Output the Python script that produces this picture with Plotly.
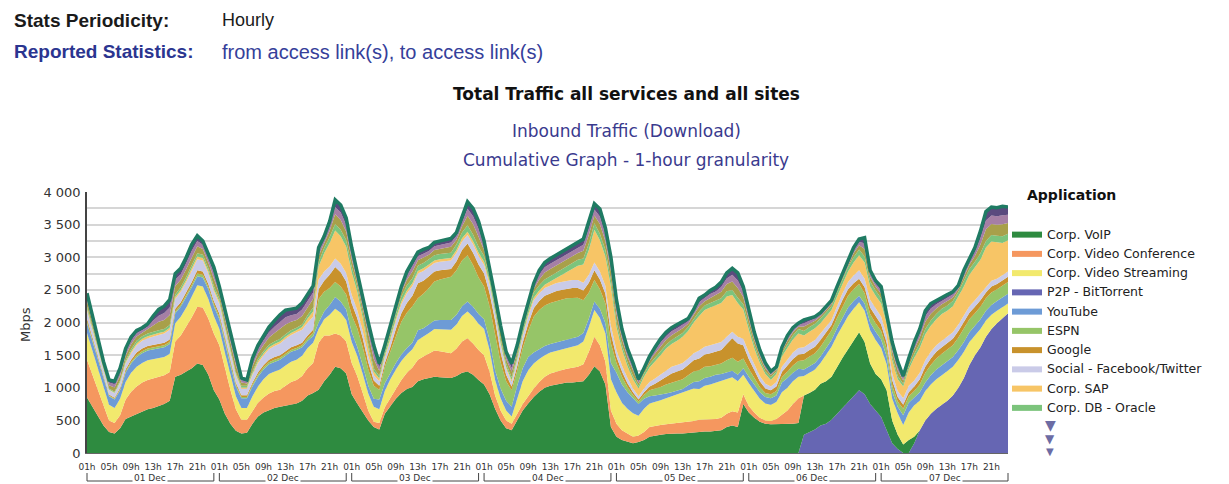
import plotly.graph_objects as go

# ---------------- data ----------------
hours = list(range(168))
tick_idx = list(range(0, 168, 4))
tick_text = ["01h", "05h", "09h", "13h", "17h", "21h"] * 7
day_labels = ["01 Dec", "02 Dec", "03 Dec", "04 Dec", "05 Dec", "06 Dec", "07 Dec"]
y_ticks = [0, 500, 1000, 1500, 2000, 2500, 3000, 3500, 4000]
y_tick_text = ["0", "500", "1 000", "1 500", "2 000", "2 500", "3 000", "3 500", "4 000"]

p2p = [0] * 130 + [
    280, 320, 360, 420, 450, 510, 600, 700, 780, 880, 960, 900, 750, 650,
    550, 350, 150, 60, 0, 0, 150, 350, 500, 600, 680, 740, 800, 880, 1000, 1150, 1350, 1500, 1620, 1780, 1900, 1990, 2070, 2140]

voip = [
    850, 700, 550, 420, 320, 300, 380, 520, 560, 600, 640, 670, 690, 720, 750, 800, 1170, 1200, 1250, 1300, 1370, 1350, 1200, 960,
    820, 600, 450, 340, 300, 310, 450, 560, 620, 660, 690, 710, 730, 750, 760, 800, 880, 920, 970, 1100, 1200, 1320, 1300, 1220,
    900, 760, 620, 500, 400, 360, 600, 720, 830, 920, 980, 1010, 1100, 1130, 1150, 1170, 1160, 1150, 1150, 1180, 1230, 1250, 1200, 1120,
    1050, 900, 680, 500, 380, 350, 500, 650, 760, 860, 940, 1000, 1030, 1050, 1070, 1080, 1080, 1090, 1100, 1200, 1330, 1250, 1050, 400,
    250, 200, 180, 150, 170, 200, 250, 270, 280, 290, 300, 300, 300, 310, 320, 330, 330, 330, 340, 350, 400, 420, 400, 750,
    620, 540, 480, 450, 440, 440, 450, 450, 450, 460, 600, 600, 610, 640, 650, 660, 720, 760, 810, 850, 890, 800, 620, 560,
    580, 610, 350, 220, 130, 200, 100, 0, 0, 0, 0, 0, 0, 0, 0, 0, 0, 0, 0, 0, 0, 0, 0, 0]

video_conf = [
    580, 490, 400, 300, 180, 160, 200, 300, 380, 420, 440, 450, 450, 440, 440, 440, 540, 600, 680, 780, 870, 880, 860, 870,
    830, 700, 520, 330, 210, 200, 200, 210, 230, 250, 260, 260, 300, 340, 360, 380, 420, 460, 720, 700, 600, 510, 500, 490,
    480, 420, 300, 150, 80, 100, 100, 110, 150, 200, 250, 300, 330, 350, 380, 400, 400, 390, 380, 420, 480, 510, 480, 460,
    450, 350, 200, 150, 120, 100, 100, 100, 110, 130, 150, 170, 190, 200, 200, 210, 220, 230, 260, 350, 450, 400, 350, 250,
    200, 150, 120, 100, 100, 120, 150, 150, 150, 150, 150, 150, 160, 170, 170, 180, 180, 180, 180, 190, 200, 220, 220, 150,
    100, 80, 60, 50, 50, 80, 130, 200, 300, 380, 0, 0, 0, 0, 0, 0, 0, 0, 0, 0, 0, 0, 0, 0,
    0, 0, 0, 0, 0, 0, 0, 0, 0, 0, 0, 0, 0, 0, 0, 0, 0, 0, 0, 0, 0, 0, 0, 0]

video_stream = [
    410, 370, 320, 270, 240, 230, 250, 270, 290, 300, 300, 300, 300, 290, 280, 280, 280, 290, 300, 320, 330, 320, 300, 270,
    250, 240, 220, 200, 180, 180, 220, 250, 280, 300, 300, 310, 310, 310, 310, 310, 310, 310, 210, 250, 320, 380, 350, 330,
    320, 310, 290, 260, 230, 210, 250, 300, 300, 290, 280, 280, 300, 300, 310, 330, 340, 350, 360, 370, 390, 410, 410, 400,
    400, 330, 240, 190, 150, 110, 250, 350, 400, 380, 350, 330, 320, 310, 310, 310, 320, 330, 350, 380, 410, 420, 430, 480,
    480, 420, 380, 360, 300, 360, 360, 360, 380, 400, 420, 440, 460, 480, 500, 470, 520, 540, 560, 560, 540, 520, 480, 300,
    350, 320, 290, 260, 250, 260, 350, 350, 350, 330, 300, 310, 310, 320, 400, 460, 480, 500, 510, 480, 460, 480, 510, 520,
    480, 400, 330, 330, 300, 420, 480, 450, 450, 450, 450, 450, 450, 440, 430, 400, 350, 300, 280, 250, 220, 190, 160, 150]

youtube = [
    150, 140, 140, 140, 130, 130, 130, 140, 140, 150, 150, 150, 150, 150, 150, 150, 150, 150, 150, 140, 140, 140, 150, 150,
    150, 150, 150, 150, 150, 150, 150, 150, 150, 150, 150, 150, 150, 150, 150, 130, 110, 100, 100, 120, 150, 180, 170, 160,
    150, 140, 130, 120, 120, 150, 120, 100, 100, 100, 100, 100, 150, 130, 130, 130, 140, 150, 150, 150, 150, 150, 150, 150,
    150, 150, 150, 150, 150, 150, 180, 200, 200, 170, 150, 140, 130, 130, 130, 130, 130, 130, 130, 130, 130, 140, 160, 250,
    300, 280, 250, 230, 180, 150, 110, 100, 80, 70, 60, 60, 60, 80, 100, 120, 120, 120, 120, 110, 100, 100, 100, 100,
    100, 100, 100, 100, 100, 100, 150, 150, 130, 120, 100, 100, 100, 100, 100, 100, 110, 120, 130, 120, 100, 110, 120, 130,
    130, 120, 110, 100, 150, 150, 120, 130, 130, 140, 150, 150, 150, 150, 150, 150, 150, 150, 150, 150, 150, 150, 150, 150]

espn = [
    30, 25, 20, 15, 10, 10, 15, 20, 25, 30, 30, 30, 30, 30, 30, 30, 30, 30, 35, 35, 40, 40, 35, 35,
    40, 35, 30, 25, 20, 20, 25, 30, 30, 30, 30, 30, 30, 30, 30, 30, 40, 50, 360, 300, 260, 230, 230, 230,
    260, 280, 280, 250, 200, 150, 250, 320, 420, 500, 540, 560, 490, 530, 560, 600, 620, 640, 660, 680, 700, 710, 640, 560,
    500, 520, 560, 400, 300, 250, 230, 300, 400, 550, 600, 620, 630, 640, 640, 640, 630, 600, 500, 400, 330, 300, 300, 300,
    150, 120, 80, 50, 40, 60, 90, 100, 120, 140, 150, 150, 150, 150, 160, 170, 170, 160, 150, 160, 180, 200, 200, 150,
    120, 100, 80, 60, 60, 70, 80, 100, 110, 120, 140, 150, 150, 150, 150, 150, 160, 170, 180, 180, 180, 160, 130, 130,
    130, 120, 100, 80, 100, 100, 100, 120, 150, 160, 170, 180, 180, 180, 190, 200, 200, 190, 190, 190, 190, 180, 180, 180]

google = [
    40, 35, 30, 20, 15, 15, 20, 30, 35, 40, 40, 40, 40, 40, 40, 40, 40, 40, 45, 45, 50, 50, 45, 45,
    45, 40, 35, 30, 25, 25, 30, 35, 35, 40, 40, 40, 40, 40, 40, 40, 40, 50, 150, 170, 200, 230, 220, 200,
    180, 160, 140, 110, 80, 60, 60, 70, 100, 130, 150, 160, 230, 200, 180, 150, 140, 130, 120, 140, 160, 180, 190, 200,
    200, 200, 200, 150, 100, 60, 70, 90, 110, 130, 140, 150, 150, 150, 150, 150, 150, 150, 150, 150, 150, 150, 150, 150,
    100, 80, 60, 40, 30, 40, 60, 80, 100, 120, 140, 150, 150, 160, 170, 180, 190, 200, 200, 210, 250, 300, 280, 200,
    150, 120, 90, 70, 60, 70, 80, 90, 100, 100, 100, 100, 100, 100, 90, 80, 90, 100, 100, 90, 80, 90, 100, 100,
    100, 90, 80, 70, 60, 60, 70, 80, 90, 100, 100, 100, 100, 100, 100, 100, 100, 100, 100, 90, 90, 80, 80, 80]

social = [
    120, 110, 100, 80, 70, 70, 80, 90, 100, 110, 120, 120, 130, 140, 140, 150, 150, 160, 160, 170, 170, 170, 160, 150,
    150, 140, 130, 110, 100, 100, 120, 140, 150, 160, 170, 180, 190, 190, 200, 200, 200, 200, 150, 140, 130, 130, 130, 130,
    130, 120, 110, 100, 80, 70, 80, 100, 120, 140, 150, 150, 150, 150, 140, 130, 130, 130, 130, 130, 130, 130, 130, 130,
    130, 130, 120, 110, 90, 70, 80, 100, 110, 120, 120, 120, 120, 120, 120, 120, 120, 120, 120, 120, 120, 120, 120, 120,
    100, 90, 80, 60, 50, 60, 70, 80, 90, 100, 100, 100, 100, 100, 110, 120, 120, 120, 120, 120, 110, 100, 100, 100,
    100, 90, 80, 70, 60, 70, 80, 90, 100, 100, 100, 100, 100, 100, 90, 80, 90, 100, 110, 120, 130, 130, 120, 120,
    120, 110, 100, 90, 100, 100, 90, 100, 100, 100, 100, 100, 100, 100, 100, 100, 100, 100, 100, 90, 90, 80, 80, 80]

sap = [
    30, 25, 20, 15, 10, 10, 15, 20, 25, 30, 30, 30, 30, 30, 30, 30, 30, 30, 35, 35, 40, 40, 35, 35,
    35, 30, 25, 20, 20, 20, 25, 30, 30, 30, 30, 30, 30, 30, 30, 40, 60, 80, 200, 280, 360, 430, 420, 400,
    350, 280, 200, 120, 60, 40, 40, 40, 40, 40, 40, 40, 40, 40, 40, 40, 40, 40, 40, 40, 50, 50, 50, 50,
    50, 50, 40, 40, 30, 30, 30, 30, 40, 40, 40, 50, 60, 80, 100, 130, 170, 220, 280, 380, 500, 480, 450, 600,
    350, 250, 180, 140, 120, 180, 220, 260, 300, 330, 350, 370, 400, 420, 470, 530, 560, 580, 590, 600, 620, 560, 520, 450,
    350, 250, 200, 150, 100, 120, 160, 180, 200, 220, 180, 180, 180, 160, 160, 150, 150, 150, 160, 200, 230, 250, 200, 200,
    200, 180, 200, 180, 180, 250, 350, 380, 400, 400, 400, 410, 400, 400, 420, 450, 480, 500, 520, 600, 600, 560, 500, 480]

oracle = [
    40, 35, 30, 20, 15, 15, 20, 30, 35, 40, 40, 40, 40, 40, 40, 40, 40, 40, 45, 45, 50, 50, 45, 45,
    45, 40, 35, 30, 25, 25, 30, 35, 35, 40, 40, 40, 40, 40, 40, 40, 50, 60, 70, 80, 90, 100, 100, 100,
    90, 80, 70, 60, 50, 40, 50, 60, 70, 80, 80, 80, 80, 80, 80, 80, 80, 80, 80, 90, 90, 100, 100, 90,
    90, 80, 70, 60, 50, 40, 50, 60, 70, 80, 80, 80, 80, 80, 80, 80, 90, 90, 90, 100, 100, 100, 100, 100,
    80, 70, 60, 50, 40, 50, 50, 60, 60, 60, 60, 60, 60, 60, 60, 70, 70, 70, 70, 70, 80, 80, 80, 80,
    70, 60, 50, 40, 40, 40, 50, 60, 60, 70, 70, 70, 70, 70, 60, 60, 70, 60, 70, 80, 90, 90, 80, 80,
    80, 70, 60, 50, 40, 50, 60, 70, 80, 80, 80, 80, 80, 80, 80, 90, 90, 90, 100, 100, 100, 100, 100, 100]

# thin unnamed application stripes on top (not in visible legend)
minor_a = [
    80, 70, 55, 50, 50, 65, 75, 70, 75, 65, 50, 60, 95, 130, 140, 155, 130, 115, 120, 130, 110, 85, 90, 115,
    75, 90, 100, 105, 50, 35, 80, 85, 95, 110, 130, 150, 150, 130, 120, 130, 125, 130, 90, 70, 95, 150, 150, 135,
    115, 80, 85, 130, 140, 75, 40, 50, 50, 60, 85, 100, 85, 85, 70, 80, 80, 85, 90, 70, 90, 145, 160, 155,
    90, 55, 55, 80, 70, 85, 65, 50, 40, 55, 90, 105, 110, 110, 110, 110, 105, 105, 120, 135, 120, 150, 135, 140,
    135, 95, 85, 80, 40, 30, 50, 65, 75, 75, 75, 75, 70, 50, 55, 80, 65, 75, 85, 100, 110, 130, 150, 110,
    95, 75, 60, 50, 35, 30, 35, 50, 50, 35, 70, 55, 45, 35, 35, 35, 30, 35, 40, 60, 65, 115, 70, 60,
    70, 40, 90, 90, 50, 50, 70, 90, 110, 105, 85, 70, 70, 55, 40, 65, 65, 90, 135, 180, 170, 170, 185, 165]

minor_b = [
    60, 50, 45, 35, 40, 50, 55, 55, 55, 50, 40, 45, 75, 95, 105, 115, 95, 85, 90, 100, 80, 65, 65, 85,
    55, 70, 75, 80, 35, 30, 60, 60, 70, 80, 95, 110, 110, 100, 90, 100, 95, 100, 65, 55, 70, 110, 115, 100,
    90, 60, 60, 100, 105, 55, 30, 40, 35, 45, 60, 75, 60, 60, 55, 60, 60, 60, 65, 55, 65, 110, 120, 120,
    70, 45, 45, 60, 55, 60, 50, 35, 30, 45, 70, 80, 80, 80, 80, 80, 80, 75, 90, 100, 90, 115, 105, 105,
    100, 75, 60, 60, 30, 25, 35, 50, 60, 55, 60, 55, 50, 40, 45, 60, 50, 60, 60, 75, 85, 100, 115, 80,
    70, 60, 45, 40, 30, 20, 30, 40, 35, 30, 50, 45, 35, 30, 30, 30, 25, 30, 30, 45, 50, 90, 50, 45,
    55, 30, 65, 65, 35, 35, 55, 65, 85, 80, 65, 50, 50, 45, 30, 50, 50, 65, 100, 135, 130, 130, 140, 125]

minor_c = [
    60, 50, 40, 35, 40, 45, 60, 55, 60, 45, 40, 45, 70, 95, 105, 120, 95, 90, 90, 100, 80, 60, 65, 90,
    55, 65, 80, 80, 35, 25, 60, 65, 75, 80, 95, 110, 110, 100, 90, 100, 90, 100, 65, 55, 75, 110, 115, 105,
    85, 60, 65, 100, 105, 60, 30, 40, 35, 45, 65, 75, 65, 65, 55, 60, 60, 65, 65, 55, 65, 105, 120, 115,
    70, 40, 40, 60, 55, 65, 45, 35, 30, 40, 70, 75, 80, 80, 80, 80, 75, 80, 90, 105, 90, 115, 100, 105,
    105, 70, 65, 60, 30, 25, 35, 45, 55, 60, 55, 60, 50, 40, 40, 60, 45, 55, 65, 75, 85, 100, 115, 80,
    75, 55, 45, 40, 25, 20, 25, 40, 35, 25, 50, 40, 30, 25, 25, 25, 25, 25, 30, 45, 45, 85, 50, 45,
    55, 30, 65, 65, 35, 35, 55, 65, 85, 75, 60, 50, 50, 40, 30, 45, 45, 65, 105, 135, 130, 130, 135, 120]

named_series = [
    # name, values, colour, legend rank (stacking order is the list order)
    ("P2P - BitTorrent", p2p, "#6666b3", 4),
    ("Corp. VoIP", voip, "#2e8b40", 1),
    ("Corp. Video Conference", video_conf, "#f5975f", 2),
    ("Corp. Video Streaming", video_stream, "#f2e96d", 3),
    ("YouTube", youtube, "#6d9bd6", 5),
    ("ESPN", espn, "#96c568", 6),
    ("Google", google, "#c8922c", 7),
    ("Social - Facebook/Twitter", social, "#cacbe8", 8),
    ("Corp. SAP", sap, "#f7c566", 9),
    ("Corp. DB - Oracle", oracle, "#7cc47c", 10),
]
minor_series = [("Other A", minor_a, "#a8a04a"), ("Other B", minor_b, "#a57fa5"), ("Other C", minor_c, "#5a4a7e")]

for nm, vals, *_ in named_series + minor_series:
    if len(vals) != 168:
        raise ValueError(f"{nm} has {len(vals)} values")

# ---------------- figure ----------------
fig = go.Figure()
for name, vals, color, rank in named_series:
    fig.add_trace(go.Scatter(
        x=hours, y=vals, name=name, stackgroup="apps", mode="lines",
        line=dict(width=0, color=color), fillcolor=color, legendrank=rank))
for k, (name, vals, color) in enumerate(minor_series):
    top = k == len(minor_series) - 1
    fig.add_trace(go.Scatter(
        x=hours, y=vals, name=name, stackgroup="apps", mode="lines", showlegend=False,
        line=dict(width=3.5 if top else 0, color="#1f7b63" if top else color), fillcolor=color))

L, R, T, B = 87, 1008, 192, 453
W, H = R - L, B - T


def px(X):
    return (X - L) / W


def py(Y):
    return (B - Y) / H


ann = []
hdr = "Liberation Sans"
ann.append(dict(x=px(12), y=py(20), text="<b>Stats Periodicity:</b>", font=dict(family=hdr, size=19, color="#1a1a1a"), xanchor="left"))
ann.append(dict(x=px(220), y=py(20), text="Hourly", font=dict(family=hdr, size=18, color="#1a1a1a"), xanchor="left"))
ann.append(dict(x=px(12), y=py(52), text="<b>Reported Statistics:</b>", font=dict(family=hdr, size=19, color="#2b3590"), xanchor="left"))
ann.append(dict(x=px(220), y=py(52), text="from access link(s), to access link(s)", font=dict(family=hdr, size=20, color="#35409a"), xanchor="left"))
ann.append(dict(x=px(626), y=py(94), text="<b>Total Traffic all services and all sites</b>", font=dict(size=17, color="#111111")))
ann.append(dict(x=px(626), y=py(131), text="Inbound Traffic (Download)", font=dict(size=17, color="#3a3a8e")))
ann.append(dict(x=px(626), y=py(160), text="Cumulative Graph - 1-hour granularity", font=dict(size=17, color="#3a3a8e")))
ann.append(dict(x=px(1025), y=py(195), text="<b>Application</b>", font=dict(size=14, color="#111111"), xanchor="left"))
ann.append(dict(x=px(25), y=py(325), text="Mbps", textangle=-90, font=dict(size=13, color="#333333")))
for Y, s in [(425, 14), (439, 12), (451, 10)]:
    ann.append(dict(x=px(1050), y=py(Y), text="▼", font=dict(size=s, color="#6c6ca4")))

shapes = []
n = len(hours) - 1
for d, lab in enumerate(day_labels):
    x0, x1 = 24 * d / n, (24 * d + 23) / n
    ann.append(dict(x=(x0 + x1) / 2, y=py(478), text=lab, font=dict(size=9, color="#333333"), bgcolor="white", borderpad=1))
    shapes.append(dict(type="line", xref="paper", yref="paper", x0=x0, x1=x1, y0=py(481), y1=py(481), line=dict(color="#444", width=1)))
    for xx in (x0, x1):
        shapes.append(dict(type="line", xref="paper", yref="paper", x0=xx, x1=xx, y0=py(473), y1=py(481), line=dict(color="#444", width=1)))

for a in ann:
    a.setdefault("xref", "paper")
    a.setdefault("yref", "paper")
    a.setdefault("showarrow", False)
    a.setdefault("xanchor", "center")
    a.setdefault("yanchor", "middle")

fig.update_layout(
    width=1229, height=484,
    margin=dict(l=L, r=1229 - R, t=T, b=484 - B, pad=0),
    paper_bgcolor="white", plot_bgcolor="white",
    font=dict(family="DejaVu Sans", color="#333333"),
    annotations=ann, shapes=shapes,
    legend=dict(x=px(1007), y=py(219), xanchor="left", yanchor="top", traceorder="normal",
                font=dict(size=12.5, color="#222222"), itemwidth=30, bgcolor="rgba(0,0,0,0)"),
    xaxis=dict(range=[0, n], tickmode="array", tickvals=tick_idx, ticktext=tick_text,
               tickfont=dict(size=9, color="#333333"), showgrid=False, zeroline=False,
               showline=True, linecolor="#666666", linewidth=1, ticks="", ticklabelstandoff=5),
    yaxis=dict(range=[0, 4000], tickmode="array", tickvals=y_ticks, ticktext=y_tick_text,
               tickfont=dict(size=13, color="#333333"), showgrid=True, gridcolor="#d6d6d6", gridwidth=1.5,
               minor=dict(tick0=0, dtick=250, showgrid=True, gridcolor="#d6d6d6", gridwidth=1.5),
               zeroline=False, showline=True, linecolor="#444444", linewidth=1.5, ticks="", ticklabelstandoff=2),
    hovermode=False,
)

fig.write_html("out.html", config={"displayModeBar": False}, post_script="document.body.style.margin='0';")
